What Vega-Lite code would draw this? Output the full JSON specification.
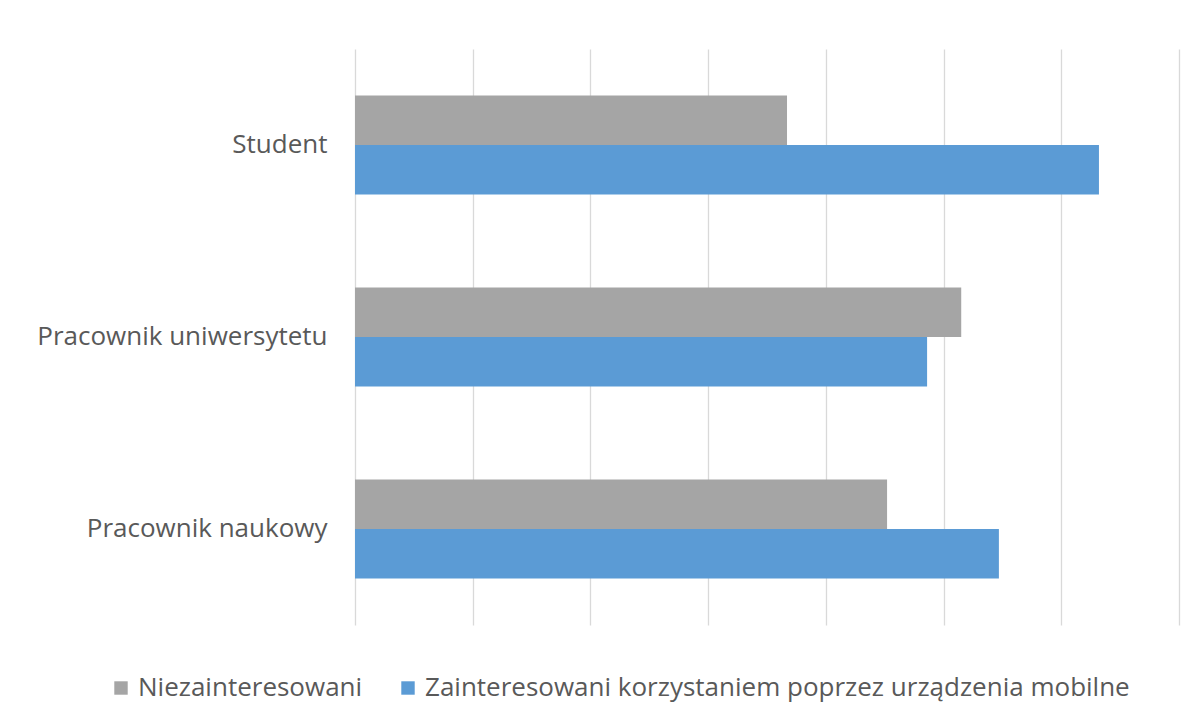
{
  "$schema": "https://vega.github.io/schema/vega-lite/v6.json",
  "autosize": {"type": "none"},
  "width": 824,
  "height": 576,
  "padding": {"left": 355, "top": 49, "right": 24, "bottom": 103},
  "background": "white",
  "config": {
    "view": {"stroke": null},
    "font": "Open Sans"
  },
  "data": {
    "values": [
      {"kategoria": "Student", "seria": "Niezainteresowani", "wartosc": 36.7},
      {"kategoria": "Student", "seria": "Zainteresowani korzystaniem poprzez urządzenia mobilne", "wartosc": 63.2},
      {"kategoria": "Pracownik uniwersytetu", "seria": "Niezainteresowani", "wartosc": 51.5},
      {"kategoria": "Pracownik uniwersytetu", "seria": "Zainteresowani korzystaniem poprzez urządzenia mobilne", "wartosc": 48.6},
      {"kategoria": "Pracownik naukowy", "seria": "Niezainteresowani", "wartosc": 45.2},
      {"kategoria": "Pracownik naukowy", "seria": "Zainteresowani korzystaniem poprzez urządzenia mobilne", "wartosc": 54.7}
    ]
  },
  "mark": {"type": "bar"},
  "encoding": {
    "y": {
      "field": "kategoria",
      "type": "nominal",
      "sort": ["Student", "Pracownik uniwersytetu", "Pracownik naukowy"],
      "scale": {"paddingInner": 0.484, "paddingOuter": 0.242},
      "axis": {
        "title": null,
        "ticks": false,
        "domain": false,
        "labelPadding": 28,
        "labelFontSize": 26,
        "labelColor": "#595959",
        "labelFont": "Open Sans",
        "labelLimit": 400
      }
    },
    "yOffset": {
      "field": "seria",
      "type": "nominal",
      "sort": ["Niezainteresowani", "Zainteresowani korzystaniem poprzez urządzenia mobilne"]
    },
    "x": {
      "field": "wartosc",
      "type": "quantitative",
      "scale": {"domain": [0, 70], "nice": false},
      "axis": {
        "title": null,
        "labels": false,
        "ticks": false,
        "domain": false,
        "grid": true,
        "gridColor": "#d9d9d9",
        "gridWidth": 1.3,
        "values": [0, 10, 20, 30, 40, 50, 60, 70]
      }
    },
    "color": {
      "field": "seria",
      "type": "nominal",
      "sort": ["Niezainteresowani", "Zainteresowani korzystaniem poprzez urządzenia mobilne"],
      "scale": {"range": ["#A5A5A5", "#5B9BD5"]},
      "legend": {
        "title": null,
        "orient": "none",
        "direction": "horizontal",
        "legendX": -247,
        "legendY": 626,
        "symbolType": "square",
        "symbolSize": 180,
        "symbolStrokeWidth": 0,
        "labelFontSize": 26,
        "labelColor": "#595959",
        "labelFont": "Open Sans",
        "labelOffset": 4,
        "columnPadding": 32,
        "labelLimit": 900
      }
    }
  }
}
